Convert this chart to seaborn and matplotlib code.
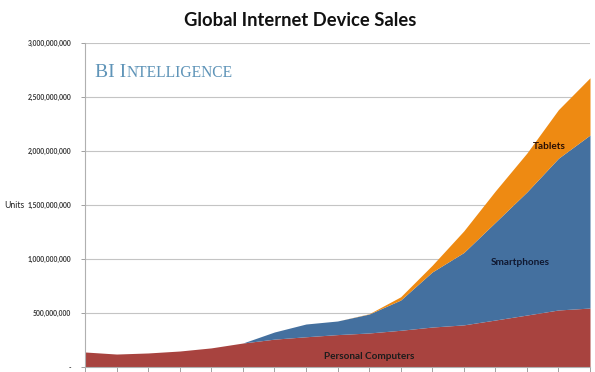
import numpy as np
import pandas as pd
import matplotlib
matplotlib.use('Agg')
import matplotlib.pyplot as plt
import seaborn as sns

# data (units)
years = [2000, 2001, 2002, 2003, 2004, 2005, 2006, 2007, 2008,
         2009, 2010, 2011, 2012, 2013, 2014, 2015, 2016]
pcs = [139, 120, 130, 148, 177, 222, 258, 280, 300,
       315, 340, 370, 390, 435, 481, 528, 546]
smartphones = [0, 0, 0, 0, 0, 0, 66, 118, 126,
               175, 280, 510, 670, 905, 1140, 1405, 1602]
tablets = [0, 0, 0, 0, 0, 0, 0, 0, 0,
           3, 30, 62, 200, 290, 360, 450, 530]

y_ticks = [0, 500, 1000, 1500, 2000, 2500, 3000]
y_labels = ['-', '500,000,000', '1,000,000,000', '1,500,000,000',
            '2,000,000,000', '2,500,000,000', '3,000,000,000']

df = pd.DataFrame({'year': years, 'Personal Computers': pcs,
                   'Smartphones': smartphones, 'Tablets': tablets})
df[['Personal Computers', 'Smartphones', 'Tablets']] *= 1e6

sns.set_theme(style='white')
plt.rcParams['font.family'] = ['Lato', 'DejaVu Sans']

colors = ['#a8433f', '#44709f', '#ee8a12']

fig = plt.figure(figsize=(5.95, 3.72), dpi=100)
ax = fig.add_axes([85 / 595, 1 - 367 / 372, 505 / 595, 324 / 372])

ax.stackplot(df['year'], df['Personal Computers'], df['Smartphones'], df['Tablets'],
             colors=colors, linewidth=0)

ax.set_xlim(years[0], years[-1])
ax.set_ylim(0, 3e9)
ax.set_yticks([v * 1e6 for v in y_ticks])
ax.set_yticklabels(y_labels, fontsize=4.9, fontweight='bold', color='#333333')
ax.set_xticks(years)
ax.set_xticklabels([])
ax.tick_params(axis='y', length=3, width=0.7, color='#a0a0a0', pad=7, left=True)
ax.tick_params(axis='x', length=4, width=0.7, color='#a0a0a0', bottom=True, direction='out')
ax.grid(axis='y', color='#c4c4c4', linewidth=0.8)
ax.set_axisbelow(True)
sns.despine(ax=ax, top=True, right=True)
for s in ['left', 'bottom']:
    ax.spines[s].set_color('#b0b0b0')
    ax.spines[s].set_linewidth(0.8)

fig.text(300 / 595, 1 - 21 / 372, 'Global Internet Device Sales', ha='center', va='center',
         fontsize=13.2, fontweight='bold', color='#111111')
fig.text(4 / 595, 1 - 206 / 372, 'Units', ha='left', va='center', fontsize=6.2, color='#222222')

# brand text in small caps
t1 = fig.text(95 / 595, 1 - 77 / 372, 'BI I', fontsize=14, family='Liberation Serif',
              color='#5f94b8', va='baseline')
fig.canvas.draw()
ax.annotate('NTELLIGENCE', xy=(1, 0), xycoords=t1, xytext=(0.5, 0), textcoords='offset points',
            fontsize=11.2, family='Liberation Serif', color='#5f94b8', va='bottom', ha='left')

ax.text(2009.0, 95e6, 'Personal Computers', ha='center', va='center', fontsize=7.2,
        fontweight='bold', color='#1c1c1c')
ax.text(2013.8, 972e6, 'Smartphones', ha='center', va='center', fontsize=7.2,
        fontweight='bold', color='#101830')
ax.text(2014.7, 2046e6, 'Tablets', ha='center', va='center', fontsize=7.2,
        fontweight='bold', color='#2a1005')

fig.savefig('out.png', dpi=100)
